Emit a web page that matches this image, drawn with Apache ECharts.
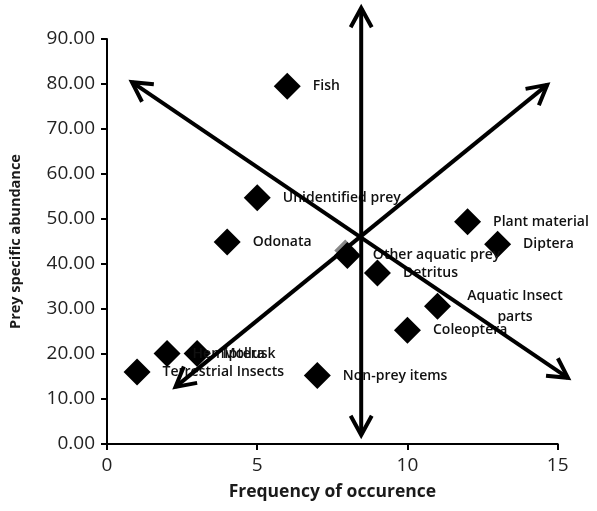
<!DOCTYPE html>
<html>
<head>
<meta charset="utf-8">
<script src="https://cdn.jsdelivr.net/npm/echarts@6/dist/echarts.min.js"></script>
<style>
  html, body { margin: 0; padding: 0; background: #fff; }
  #chart { width: 597px; height: 511px; }
</style>
</head>
<body>
<div id="chart"></div>
<script>
// prey categories and their values
var preyNames = ['Fish', 'Unidentified prey', 'Odonata', 'Other aquatic prey', 'Detritus',
                 'Coleoptera', 'Aquatic Insect\nparts', 'Plant material', 'Diptera',
                 'Non-prey items', 'Terrestrial Insects', 'Hemiptera', 'Mollusk'];
var frequency = [6, 5, 4, 8, 9, 10, 11, 12, 13, 7, 1, 2, 3];
var abundance = [79.5, 54.7, 44.9, 41.9, 38.0, 25.3, 30.6, 49.4, 44.4, 15.2, 16.0, 20.1, 20.1];

// faint grey marker sitting behind "Other aquatic prey"
var shadowPoint = [7.93, 43.0];

// double headed arrows, start x/y and end x/y in data units
var arrowStartX = [8.46, 0.83, 2.28];
var arrowStartY = [96.9, 80.4, 12.7];
var arrowEndX = [8.46, 15.34, 14.65];
var arrowEndY = [2.0, 14.7, 79.8];

var yTicks = [0, 10, 20, 30, 40, 50, 60, 70, 80, 90];
var xTicks = [0, 5, 10, 15];

var chart = echarts.init(document.getElementById('chart'));

var points = [];
for (var i = 0; i < preyNames.length; i++) {
    var p = { name: preyNames[i], value: [frequency[i], abundance[i]] };
    if (preyNames[i].indexOf('\n') >= 0) {
        p.label = { align: 'center', offset: [52, 0] };
    }
    points.push(p);
}

var arrows = [];
for (var j = 0; j < arrowStartX.length; j++) {
    arrows.push([arrowStartX[j], arrowStartY[j], arrowEndX[j], arrowEndY[j]]);
}

// chevron head at tip, pointing away from "from"
function head(tip, from) {
    var ang = Math.atan2(tip[1] - from[1], tip[0] - from[0]);
    var len = 22, spread = 0.5;
    return [
        [tip[0] - len * Math.cos(ang - spread), tip[1] - len * Math.sin(ang - spread)],
        tip,
        [tip[0] - len * Math.cos(ang + spread), tip[1] - len * Math.sin(ang + spread)]
    ];
}

chart.setOption({
    animation: false,
    grid: { left: 101.7, right: 39.3, top: 39, bottom: 67 },
    xAxis: {
        type: 'value',
        min: xTicks[0],
        max: xTicks[xTicks.length - 1],
        interval: 5,
        name: 'Frequency of occurence',
        nameLocation: 'middle',
        nameGap: 39,
        nameTextStyle: { fontFamily: 'Open Sans', fontWeight: 'bold', fontSize: 17.5, color: '#1a1a1a' },
        splitLine: { show: false },
        axisLine: { lineStyle: { color: '#000', width: 2 } },
        axisTick: { length: 6, lineStyle: { color: '#000', width: 2 } },
        axisLabel: { fontFamily: 'Open Sans', fontSize: 19, color: '#222', margin: 12 }
    },
    yAxis: {
        type: 'value',
        min: yTicks[0],
        max: yTicks[yTicks.length - 1],
        interval: 10,
        name: 'Prey specific abundance',
        nameLocation: 'middle',
        nameGap: 84,
        nameTextStyle: { fontFamily: 'Open Sans', fontWeight: 'bold', fontSize: 14.5, color: '#1a1a1a' },
        splitLine: { show: false },
        axisLine: { lineStyle: { color: '#000', width: 2 } },
        axisTick: { length: 6, lineStyle: { color: '#000', width: 2 } },
        axisLabel: {
            fontFamily: 'Open Sans', fontSize: 19, color: '#222', margin: 12,
            formatter: function (v) { return v.toFixed(2); }
        }
    },
    series: [
        {
            type: 'scatter',
            z: 1,
            symbol: 'diamond',
            symbolSize: 22,
            itemStyle: { color: '#888', opacity: 1 },
            data: [shadowPoint],
            silent: true
        },
        {
            type: 'scatter',
            z: 2,
            symbol: 'diamond',
            symbolSize: 27,
            itemStyle: { color: '#000', opacity: 1 },
            label: {
                show: true,
                position: 'right',
                distance: 12,
                formatter: '{b}',
                fontFamily: 'Open Sans',
                fontSize: 14,
                fontWeight: 600,
                color: '#111',
                lineHeight: 21
            },
            data: points
        },
        {
            type: 'custom',
            z: 5,
            clip: false,
            silent: true,
            data: arrows,
            renderItem: function (params, api) {
                var a = api.coord([api.value(0), api.value(1)]);
                var b = api.coord([api.value(2), api.value(3)]);
                var style = { stroke: '#000', lineWidth: 4, fill: null, lineJoin: 'miter', lineCap: 'butt' };
                return {
                    type: 'group',
                    children: [
                        { type: 'line', shape: { x1: a[0], y1: a[1], x2: b[0], y2: b[1] }, style: style },
                        { type: 'polyline', shape: { points: head(a, b) }, style: style },
                        { type: 'polyline', shape: { points: head(b, a) }, style: style }
                    ]
                };
            },
            encode: { x: [0, 2], y: [1, 3] }
        }
    ]
});
</script>
</body>
</html>
